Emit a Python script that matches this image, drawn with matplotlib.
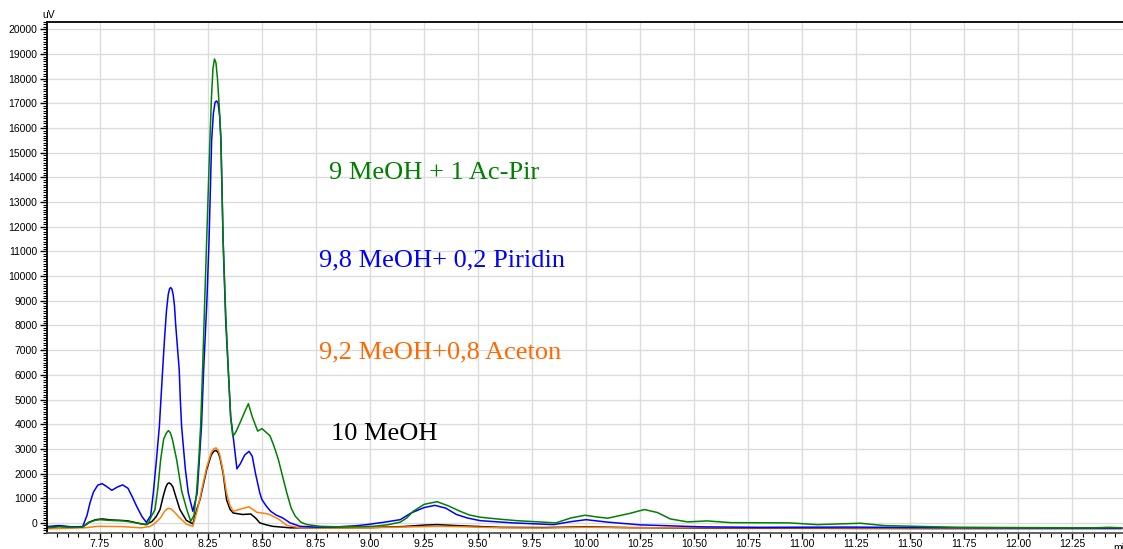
import matplotlib.pyplot as plt
from matplotlib.ticker import MultipleLocator, FormatStrFormatter

# --- data (time in min, signal in uV) ---
t_blue = [7.505, 7.56, 7.62, 7.67, 7.69, 7.704, 7.72, 7.74, 7.76, 7.78, 7.805, 7.83, 7.855,
          7.88, 7.90, 7.92, 7.945, 7.965, 7.985, 7.997, 8.012, 8.025, 8.043, 8.050, 8.058,
          8.066, 8.072, 8.077, 8.083, 8.089, 8.095, 8.10, 8.108, 8.117, 8.122, 8.128, 8.145,
          8.159, 8.18, 8.20, 8.22, 8.23, 8.245, 8.255, 8.267, 8.275, 8.283, 8.29, 8.297,
          8.304, 8.31, 8.32, 8.332, 8.344, 8.355, 8.367, 8.384, 8.40, 8.42, 8.44, 8.455,
          8.47, 8.49, 8.50, 8.52, 8.54, 8.565, 8.596, 8.63, 8.676, 8.75, 8.85, 8.93, 8.985,
          9.06, 9.14, 9.19, 9.25, 9.30, 9.35, 9.40, 9.45, 9.51, 9.66, 9.85, 9.93, 10.00,
          10.10, 10.25, 10.53, 10.8, 11.2, 11.6, 12.0, 12.48]
v_blue = [-150, -110, -160, -150, 300, 810, 1250, 1530, 1590, 1480, 1320, 1450, 1540,
          1400, 1050, 670, 250, 20, 300, 1210, 2600, 3910, 6610, 7600, 8600,
          9250, 9480, 9540, 9480, 9250, 8800, 8100, 7200, 6200, 5000, 3910, 2200,
          1210, 470, 1200, 3910, 6200, 9000, 11470, 15510, 16600, 17050, 17100, 17000,
          16500, 15510, 11470, 8200, 6200, 4300, 3480, 2190, 2400, 2750, 2900, 2700,
          2000, 1210, 940, 680, 470, 320, 200, 0, -140, -170, -160, -120, -70,
          20, 130, 400, 620, 710, 600, 340, 200, 90, 0, -70, 50, 130,
          30, -80, -160, -180, -170, -190, -200, -210]

t_green = [7.505, 7.56, 7.62, 7.67, 7.70, 7.73, 7.75, 7.80, 7.86, 7.90, 7.94, 7.97, 7.99,
           8.005, 8.018, 8.031, 8.045, 8.058, 8.067, 8.076, 8.085, 8.105, 8.128, 8.152,
           8.17, 8.185, 8.197, 8.207, 8.216, 8.225, 8.235, 8.244, 8.259, 8.266, 8.273,
           8.28, 8.287, 8.294, 8.302, 8.31, 8.32, 8.332, 8.344, 8.355, 8.365, 8.38, 8.398,
           8.42, 8.437, 8.455, 8.480, 8.50, 8.537, 8.556, 8.576, 8.595, 8.615, 8.635,
           8.654, 8.68, 8.708, 8.77, 8.86, 9.015, 9.08, 9.14, 9.17, 9.20, 9.25, 9.31,
           9.36, 9.417, 9.46, 9.51, 9.60, 9.68, 9.86, 9.93, 9.995, 10.05, 10.10, 10.20,
           10.27, 10.33, 10.39, 10.47, 10.56, 10.67, 10.94, 11.07, 11.18, 11.27, 11.38,
           11.72, 12.0, 12.35, 12.42, 12.48]
v_green = [-200, -160, -180, -170, 20, 110, 130, 100, 80, 30, -40, -70, 300,
           540, 1400, 2560, 3400, 3650, 3740, 3650, 3400, 2560, 1300, 540,
           65, 300, 1210, 2500, 3910, 6200, 9000, 11470, 15510, 17200, 18400,
           18800, 18650, 18000, 16900, 15510, 11470, 8500, 6200, 4300, 3500, 3700, 4050,
           4500, 4830, 4300, 3720, 3820, 3530, 3100, 2560, 1900, 1210, 600,
           270, 30, -70, -140, -160, -140, -80, 30, 200, 470, 750, 860,
           700, 470, 320, 230, 150, 90, 0, 200, 310, 240, 190, 380,
           540, 420, 160, 40, 80, 10, 0, -70, -40, -15, -110,
           -180, -190, -200, -180, -200]

t_black = [7.505, 7.56, 7.62, 7.67, 7.70, 7.73, 7.76, 7.80, 7.85, 7.88, 7.92, 7.96, 7.99,
           8.01, 8.028, 8.045, 8.055, 8.063, 8.07, 8.078, 8.088, 8.10, 8.12, 8.15, 8.18,
           8.20, 8.213, 8.23, 8.244, 8.265, 8.277, 8.287, 8.297, 8.305, 8.32, 8.336,
           8.352, 8.367, 8.41, 8.448, 8.47, 8.49, 8.52, 8.55, 8.63, 8.8, 9.0, 9.15, 9.25,
           9.31, 9.40, 9.60, 9.80, 10.0, 10.2, 10.6, 11.0, 11.6, 12.0, 12.48]
v_black = [-180, -130, -170, -170, 30, 130, 160, 120, 100, 80, 0, -70, 50,
           250, 540, 1150, 1450, 1590, 1620, 1580, 1450, 1100, 540, 100, -40,
           600, 940, 1600, 2160, 2750, 2900, 2940, 2850, 2650, 2020, 940,
           550, 400, 340, 360, 200, 0, -80, -140, -200, -200, -190, -150, -90,
           -70, -110, -180, -190, -160, -190, -220, -220, -230, -230, -230]

t_orange = [7.505, 7.60, 7.68, 7.74, 7.85, 7.94, 7.98, 8.00, 8.03, 8.05, 8.062, 8.07, 8.078,
            8.09, 8.12, 8.15, 8.18, 8.20, 8.213, 8.23, 8.244, 8.265, 8.277, 8.287, 8.297,
            8.305, 8.32, 8.336, 8.352, 8.367, 8.40, 8.44, 8.476, 8.50, 8.53, 8.555, 8.576,
            8.615, 8.676, 8.8, 9.0, 9.15, 9.25, 9.31, 9.40, 9.60, 9.8, 10.0, 10.2, 10.6,
            11.0, 11.6, 12.0, 12.48]
v_orange = [-240, -220, -200, -140, -150, -200, -150, -50, 200, 480, 570, 590, 570,
            480, 200, -50, -140, 500, 1000, 1700, 2250, 2850, 3000, 3040, 2950,
            2750, 2100, 1210, 700, 470, 560, 650, 430, 400, 360, 250, 160,
            -100, -200, -210, -200, -170, -150, -140, -150, -200, -210, -180, -200, -200,
            -200, -210, -210, -210]

labels = ['9 MeOH + 1 Ac-Pir', '9,8 MeOH+ 0,2 Piridin', '9,2 MeOH+0,8 Aceton', '10 MeOH']
label_x = [8.81, 8.763, 8.763, 8.818]
label_y = [13935, 10390, 6652, 3343]
label_colors = ['#008000', '#0000ff', '#ff6a00', '#000000']

fig = plt.figure(figsize=(11.23, 5.49), dpi=100)
ax = fig.add_axes([47 / 1123, 16 / 549, 1076 / 1123, 511 / 549])

line_kw = dict(lw=1.1, solid_joinstyle='round', solid_capstyle='round')
ax.plot(t_black, v_black, color='black', **line_kw)
ax.plot(t_orange, v_orange, color='#ff7f0e', **line_kw)
ax.plot(t_blue, v_blue, color='#0000ff', **line_kw)
ax.plot(t_green, v_green, color='#008000', **line_kw)

for txt, x, y, c in zip(labels, label_x, label_y, label_colors):
    ax.text(x, y, txt, color=c, fontsize=19, family='Liberation Serif',
            ha='left', va='baseline')

ax.set_xlim(7.505, 12.485)
ax.set_ylim(-410, 20300)

ax.xaxis.set_minor_locator(MultipleLocator(0.05))
ax.xaxis.set_major_formatter(FormatStrFormatter('%.2f'))
ax.yaxis.set_major_locator(MultipleLocator(1000))
ax.yaxis.set_minor_locator(MultipleLocator(100))
ax.set_xticks([x / 4 for x in range(31, 50)])

ax.grid(True, which='major', color='#dcdcdc', lw=1.0)
ax.set_axisbelow(True)

ax.spines['right'].set_visible(False)
for s in ['top', 'left', 'bottom']:
    ax.spines[s].set_linewidth(1.3)
ax.spines['bottom'].set_color('#555555')

ax.tick_params(axis='both', which='major', length=5, width=1, direction='out',
               labelsize=7.5, pad=2)
ax.tick_params(axis='x', which='major', length=4, pad=0.5)
ax.tick_params(axis='both', which='minor', length=3, width=0.8, direction='out')
for lab in ax.get_xticklabels() + ax.get_yticklabels():
    lab.set_family('Liberation Sans')

ax.text(-0.004, 1.003, 'uV', transform=ax.transAxes, fontsize=7.5,
        family='Liberation Sans', ha='left', va='bottom')
ax.text(12.44, -1000, 'min', fontsize=7.5, family='Liberation Sans',
        ha='left', va='center', clip_on=False)

fig.savefig('out.png', dpi=100)
